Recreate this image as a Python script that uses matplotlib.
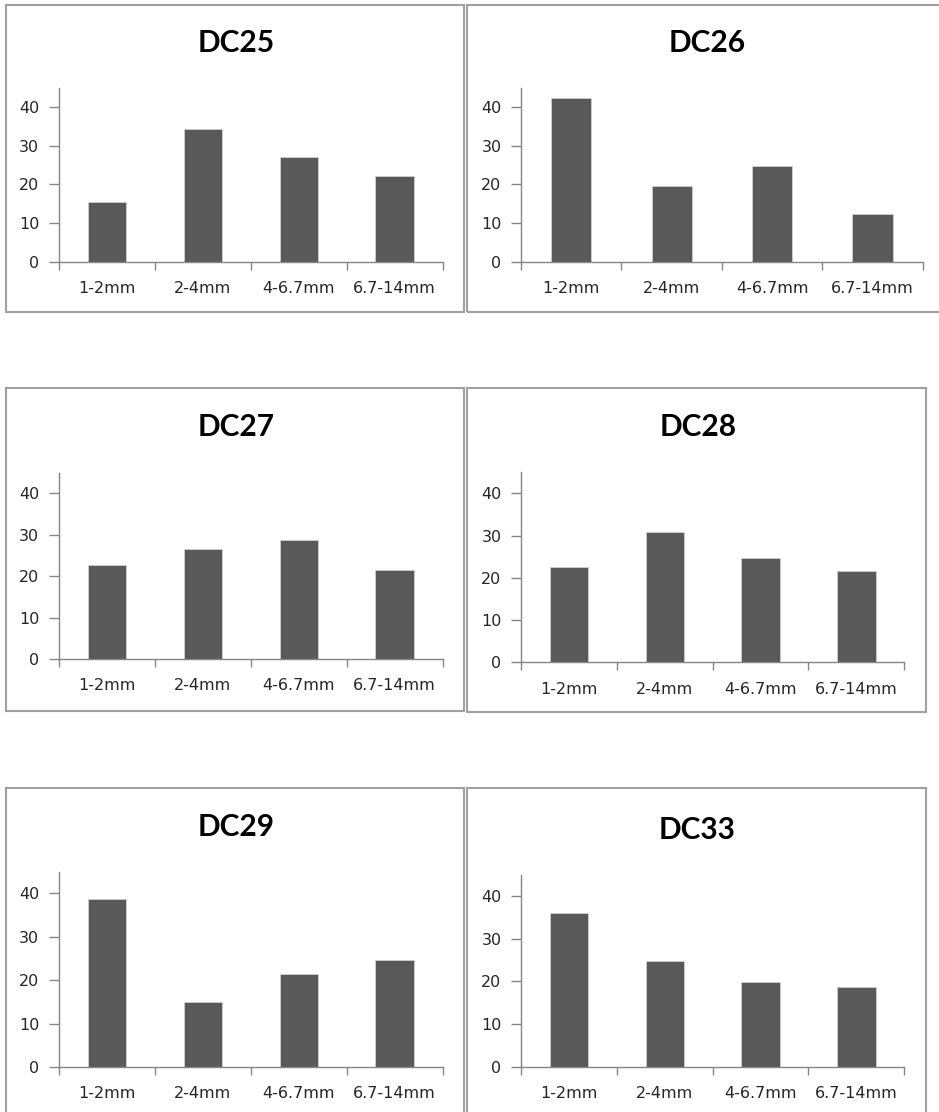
"""
Grain size distribution bars for six DC samples, laid out as in the report figure.
"""

import matplotlib.pyplot as plt
from matplotlib.patches import Rectangle

W_PX = 939
H_PX = 1112

categories = ["1-2mm", "2-4mm", "4-6.7mm", "6.7-14mm"]

titles = ["DC25", "DC26", "DC27", "DC28", "DC29", "DC33"]

dc25 = [15.5, 34.3, 27.2, 22.2]
dc26 = [42.5, 19.7, 24.9, 12.4]
dc27 = [22.6, 26.5, 28.7, 21.5]
dc28 = [22.5, 30.9, 24.8, 21.6]
dc29 = [38.8, 14.9, 21.4, 24.7]
dc33 = [36.1, 24.9, 19.8, 18.6]

y_ticks = [0, 10, 20, 30, 40]

series = [dc25, dc26, dc27, dc28, dc29, dc33]

# layout in pixels: box (left, top, right, bottom), axes (x0, x1, y_top, y_base), title (x, y)
layout = [
    ((6, 5, 464, 312), (58.7, 442.7, 88, 261.7), (235.7, 43)),
    ((467, 5, 945, 312), (521, 922.7, 88, 261.7), (706.7, 43)),
    ((6, 388, 464, 711), (58.7, 442.7, 472.7, 659), (235.7, 427)),
    ((467, 388, 926, 712), (521, 904.3, 472.2, 662.3), (698.3, 427)),
    ((6, 788, 464, 1120), (58.7, 442.7, 871.7, 1067), (235.7, 827)),
    ((467, 788, 926, 1120), (521, 904.3, 874.6, 1067), (697.3, 830)),
]

AXIS_COLOR = "#868686"
BAR_COLOR = "#595959"
TEXT_COLOR = "#262626"
BOX_COLOR = "#a0a0a0"

fig = plt.figure(figsize=(W_PX / 100, H_PX / 100), dpi=100)

for title, values, (box, ax_px, title_px) in zip(titles, series, layout):

    bl, bt, br, bb = box
    fig.patches.append(
        Rectangle(
            (bl / W_PX, 1 - bb / H_PX),
            (br - bl) / W_PX,
            (bb - bt) / H_PX,
            transform=fig.transFigure,
            fill=False,
            edgecolor=BOX_COLOR,
            linewidth=1.5,
        )
    )

    x0, x1, y_top, y_base = ax_px
    ax = fig.add_axes(
        [
            x0 / W_PX,
            1 - y_base / H_PX,
            (x1 - x0) / W_PX,
            (y_base - y_top) / H_PX,
        ]
    )

    xs = list(range(len(categories)))
    ax.bar(xs, values, width=0.4, color=BAR_COLOR, edgecolor="#d0d0d0", linewidth=0.6)

    ax.set_xlim(-0.5, len(categories) - 0.5)
    ax.set_ylim(0, 45)

    ax.set_yticks(y_ticks)
    ax.set_xticks(xs)
    ax.set_xticklabels(categories)
    ax.set_xticks([i - 0.5 for i in range(len(categories) + 1)], minor=True)

    ax.tick_params(axis="x", which="major", length=0, pad=14,
                   labelsize=11.5, labelcolor=TEXT_COLOR)
    ax.tick_params(axis="x", which="minor", length=6, width=1,
                   color=AXIS_COLOR, direction="out")
    ax.tick_params(axis="y", length=7, width=1, pad=7,
                   color=AXIS_COLOR, labelsize=11.5, labelcolor=TEXT_COLOR)

    for side in ["top", "right"]:
        ax.spines[side].set_visible(False)
    for side in ["left", "bottom"]:
        ax.spines[side].set_color(AXIS_COLOR)
        ax.spines[side].set_linewidth(1)

    ax.patch.set_alpha(0)

    tx, ty = title_px
    fig.text(
        tx / W_PX,
        1 - ty / H_PX,
        title,
        ha="center",
        va="center",
        fontsize=21.5,
        fontweight="bold",
        family=["Lato", "DejaVu Sans"],
        color="#000000",
    )

fig.savefig("out.png", dpi=100)
